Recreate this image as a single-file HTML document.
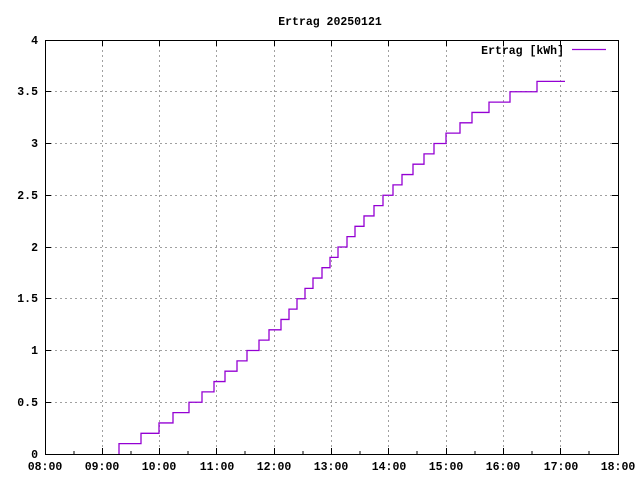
<!DOCTYPE html>
<html><head><style>
body{margin:0;background:#fff}
text{font-family:"Liberation Mono","DejaVu Sans Mono",monospace;font-size:11.5px;font-weight:bold;fill:#000}
</style></head><body>
<svg width="640" height="480" xmlns="http://www.w3.org/2000/svg">
<rect width="640" height="480" fill="#fff"/>
<g stroke="#a0a0a0" stroke-dasharray="2,3" stroke-width="1">
<path d="M102.5,40V454M159.5,40V454M216.5,40V454M274.5,40V454M331.5,40V454M388.5,40V454M446.5,40V454M503.5,40V454M560.5,40V454"/>
<path d="M45,402.5H618M45,350.5H618M45,298.5H618M45,247.5H618M45,195.5H618M45,143.5H618M45,91.5H618"/>
</g>
<rect x="45.5" y="40.5" width="573" height="414" fill="none" stroke="#000"/>
<g stroke="#000">
<path d="M102.5,454v-6M159.5,454v-6M216.5,454v-6M274.5,454v-6M331.5,454v-6M388.5,454v-6M446.5,454v-6M503.5,454v-6M560.5,454v-6
M102.5,40v6M159.5,40v6M216.5,40v6M274.5,40v6M331.5,40v6M388.5,40v6M446.5,40v6M503.5,40v6M560.5,40v6
M74,454v-3M131,454v-3M188,454v-3M245,454v-3M303,454v-3M360,454v-3M417,454v-3M475,454v-3M532,454v-3M589,454v-3
M45,402.5h6M45,350.5h6M45,298.5h6M45,247.5h6M45,195.5h6M45,143.5h6M45,91.5h6
M618,402.5h-6M618,350.5h-6M618,298.5h-6M618,247.5h-6M618,195.5h-6M618,143.5h-6M618,91.5h-6"/>
</g>
<text x="330" y="25" text-anchor="middle">Ertrag 20250121</text>
<g text-anchor="end">
<text x="38" y="458">0</text><text x="38" y="406">0.5</text><text x="38" y="354">1</text><text x="38" y="302">1.5</text><text x="38" y="251">2</text><text x="38" y="199">2.5</text><text x="38" y="147">3</text><text x="38" y="95">3.5</text><text x="38" y="44">4</text>
</g>
<g text-anchor="middle">
<text x="45" y="470">08:00</text><text x="102" y="470">09:00</text><text x="159" y="470">10:00</text><text x="217" y="470">11:00</text><text x="274" y="470">12:00</text><text x="331" y="470">13:00</text><text x="389" y="470">14:00</text><text x="446" y="470">15:00</text><text x="503" y="470">16:00</text><text x="561" y="470">17:00</text><text x="618" y="470">18:00</text>
</g>
<text x="564" y="54" text-anchor="end">Ertrag [kWh]</text>
<path d="M572,49.5H606" style="stroke:#9400d3;stroke-width:1.2"/>
<path style="fill:none;stroke:#9400d3;stroke-width:1.3" d="M119,454V443.65H141V433.3H159V422.95H173V412.6H189V402.25H202V391.9H214V381.55H225V371.2H237V360.85H247V350.5H259V340.15H269V329.8H281V319.45H289V309.1H297V298.75H305V288.4H313V278.05H322V267.7H330V257.35H338V247H347V236.65H355V226.3H364V215.95H374V205.6H383V195.25H393V184.9H402V174.55H413V164.2H424V153.85H434V143.5H446V133.15H460V122.8H472V112.45H489V102.1H510V91.75H537V81.4H565"/>
</svg>
</body></html>
